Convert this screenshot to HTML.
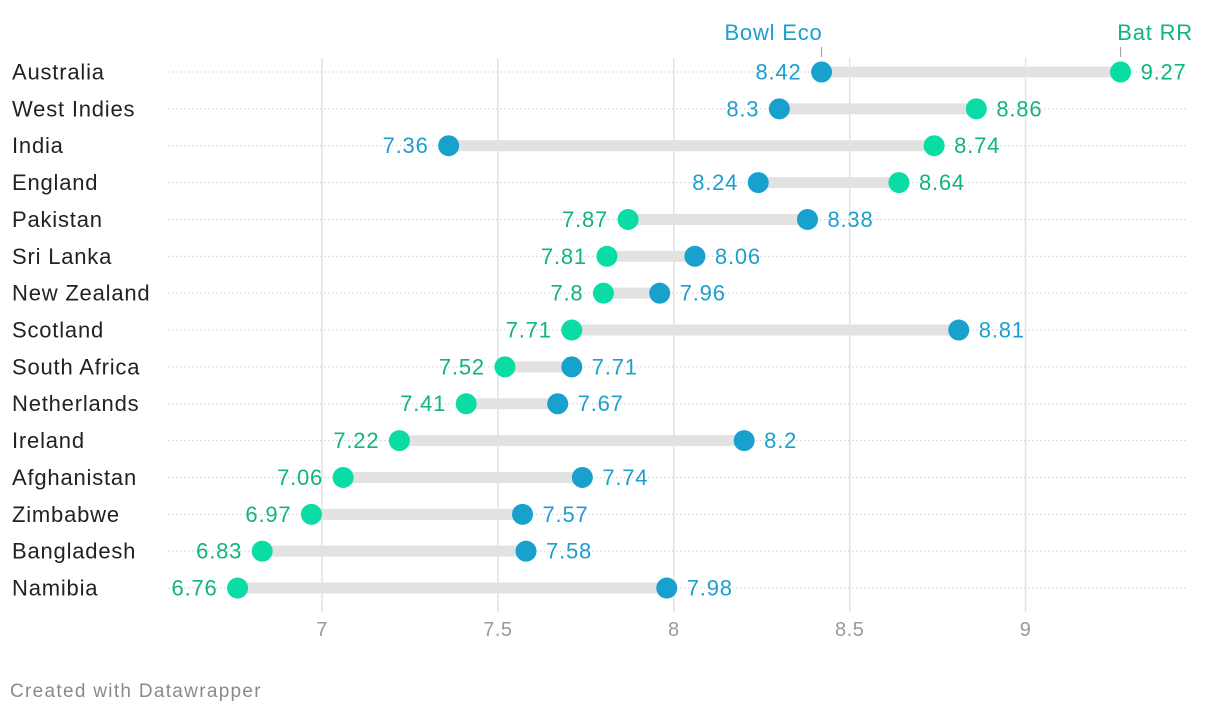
<!DOCTYPE html>
<html><head><meta charset="utf-8"><style>
body{margin:0;background:#fff;width:1220px;height:714px;overflow:hidden;font-family:"Liberation Sans",sans-serif}
svg text{font-family:"Liberation Sans",sans-serif}
</style></head><body>
<svg id="chart" width="1220" height="714" xmlns="http://www.w3.org/2000/svg"></svg>
<script>
const countries=["Australia","West Indies","India","England","Pakistan","Sri Lanka","New Zealand","Scotland","South Africa","Netherlands","Ireland","Afghanistan","Zimbabwe","Bangladesh","Namibia"];
const bowlEco=[8.42,8.3,7.36,8.24,8.38,8.06,7.96,8.81,7.71,7.67,8.2,7.74,7.57,7.58,7.98];
const batRR=[9.27,8.86,8.74,8.64,7.87,7.81,7.8,7.71,7.52,7.41,7.22,7.06,6.97,6.83,6.76];
const ticks=[7,7.5,8,8.5,9];
const NS="http://www.w3.org/2000/svg";
const svg=document.getElementById('chart');
const X=v=>322+(v-7)*351.8;
const Y=i=>72+i*36.86;
const BLUE="#18a1cd",GREEN="#09dca4",BLUET="#1c9fcf",GREENT="#12b282";
function mk(t,a,txt){const e=document.createElementNS(NS,t);for(const k in a)e.setAttribute(k,a[k]);if(txt!==undefined)e.textContent=txt;svg.appendChild(e);return e;}
ticks.forEach(t=>{
 const l=mk('line',{x1:X(t),x2:X(t),y1:58,y2:612,stroke:'#e2e2e2','stroke-width':1.5});
 
 
 const tx=mk('text',{x:X(t),y:636,'text-anchor':'middle','font-size':20,'letter-spacing':0.5,fill:'#9a9a9a'},String(t));
 
 
});
countries.forEach((c,i)=>{
 const y=Y(i);
 const g=mk('line',{x1:168,x2:1186,y1:y,y2:y,stroke:'#cfcfcf','stroke-width':1,'stroke-dasharray':'1.5,2.5'});
 
 
 const lb=mk('text',{x:12,y:y+7.5,'font-size':22,'letter-spacing':0.8,fill:'#222'},c);
 
 
 const b=bowlEco[i],r=batRR[i];
 const bar=mk('line',{x1:X(b),x2:X(r),y1:y,y2:y,stroke:'#e2e2e2','stroke-width':11});
 
 
 const hi=Math.max(b,r);
 [[b,BLUE,BLUET,'bowl-eco'],[r,GREEN,GREENT,'bat-rr']].forEach(([v,col,tc,nm])=>{
  const d=mk('circle',{cx:X(v),cy:y,r:10.5,fill:col});
  
  
  const right=v===hi;
  const t=mk('text',{x:right?X(v)+20:X(v)-20,y:y+7.5,'text-anchor':right?'start':'end','font-size':22,'letter-spacing':0.8,fill:tc},String(v));
  
  
 });
});
[[bowlEco[0],'Bowl Eco',BLUET,'bowl-eco-legend'],[batRR[0],'Bat RR',GREENT,'bat-rr-legend']].forEach(([v,s,c,nm])=>{
 const t=mk('text',{x:X(v)+1,y:40,'text-anchor':'end','font-size':22,'letter-spacing':0.8,fill:c},s);
 if(nm==='bat-rr-legend'){t.setAttribute('x',1193);}
 
 
 const l=mk('line',{x1:X(v),x2:X(v),y1:47,y2:57,stroke:'#999','stroke-width':1});
 
 
});
const f=mk('text',{x:10,y:697,'font-size':19,'letter-spacing':1.3,fill:'#8a8a8a'},'Created with Datawrapper');


</script>
</body></html>
